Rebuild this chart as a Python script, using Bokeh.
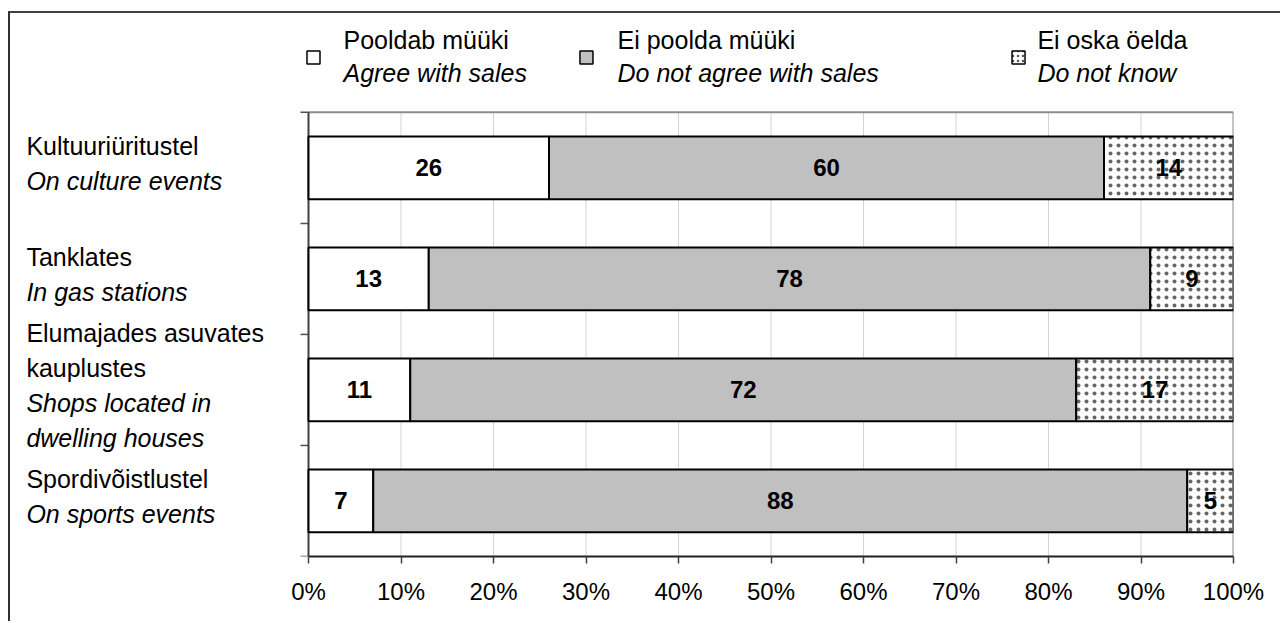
from bokeh.plotting import figure
from bokeh.models import Range1d, FixedTicker, PrintfTickFormatter
from bokeh.core.properties import value
from bokeh.embed import file_html
from bokeh.resources import INLINE

# ---------------- data ----------------
categories_et = ["Kultuuriüritustel", "Tanklates", "Elumajades asuvates\nkauplustes", "Spordivõistlustel"]
categories_en = ["On culture events", "In gas stations", "Shops located in\ndwelling houses", "On sports events"]
agree = [26, 13, 11, 7]
disagree = [60, 78, 72, 88]
dont_know = [14, 9, 17, 5]
series_et = ["Pooldab müüki", "Ei poolda müüki", "Ei oska öelda"]
series_en = ["Agree with sales", "Do not agree with sales", "Do not know"]
x_ticks = [0, 10, 20, 30, 40, 50, 60, 70, 80, 90, 100]

# ---------------- layout / style constants ----------------
FONT = "Liberation Sans"
GREY = "#c0c0c0"
BAR_H = 0.565
PX = 9.25                      # pixels per x unit
X_START = -(308 - 10) / PX     # frame starts at the canvas' left edge
LEG_MARK_X = [0.54, 30.05, 76.76]
LEG_TEXT_X = [3.78, 33.41, 78.8]
LEG_Y1, LEG_Y2, LEG_MY = -0.647, -0.35, -0.494
CAT_X = -30.5
LINE_STEP = 0.315
LINE_OFF = -0.036
TICK_LEN = 8 / PX

n = len(categories_et)
ypos = [i + 0.5 for i in range(n)]
left2 = agree
right2 = [a + d for a, d in zip(agree, disagree)]
right3 = [r + k for r, k in zip(right2, dont_know)]

p = figure(width=1272, height=610,
           x_range=Range1d(X_START, 100), y_range=Range1d(n, -0.8),
           output_backend="svg", toolbar_location=None, title=None,
           min_border_left=0, min_border_right=49,
           min_border_top=10, min_border_bottom=67,
           outline_line_color=None, background_fill_color="white",
           border_fill_color="white")
p.margin = (11, 0, 0, 8)
p.styles = {"border-top": "2px solid #404040", "border-left": "2px solid #303030"}
p.xgrid.visible = False
p.ygrid.visible = False
p.yaxis.visible = False

# gridlines (behind bars)
p.segment(x0=x_ticks[1:-1], y0=0, x1=x_ticks[1:-1], y1=n, line_color="#d4d4d4", line_width=1)
# plot-area border top and right
p.segment(x0=[0, 100], y0=[0, 0], x1=[100, 100], y1=[0, n], line_color="#8c8c8c", line_width=2)
# left axis line and its ticks at the category boundaries
bounds_y = list(range(n + 1))
p.segment(x0=[-TICK_LEN] * (n + 1), y0=bounds_y, x1=[0] * (n + 1), y1=bounds_y,
          line_color="#505050", line_width=1.5)
p.segment(x0=0, y0=0, x1=0, y1=n, line_color="#404040", line_width=2)

# bars
p.hbar(y=ypos, left=0, right=agree, height=BAR_H, fill_color="white", line_color="black", line_width=2)
p.hbar(y=ypos, left=left2, right=right2, height=BAR_H, fill_color=GREY, line_color="black", line_width=2)
p.hbar(y=ypos, left=right2, right=right3, height=BAR_H, fill_color="white", line_color="black", line_width=2,
       hatch_pattern="dot", hatch_scale=8, hatch_color="#666666", hatch_weight=0.7)

# value labels
lab_x, lab_y, lab_t = [], [], []
for i in range(n):
    for lo, val in ((0, agree[i]), (left2[i], disagree[i]), (right2[i], dont_know[i])):
        lab_x.append(lo + val / 2)
        lab_y.append(ypos[i])
        lab_t.append(str(val))
p.text(x=lab_x, y=lab_y, text=lab_t, text_align="center", text_baseline="middle",
       text_font=value(FONT), text_font_style="bold", text_font_size="24px", text_color="black")

# legend
p.scatter(x=LEG_MARK_X[:2], y=[LEG_MY] * 2, marker="square", size=13,
          fill_color=["white", GREY], line_color="black", line_width=1.5)
p.scatter(x=LEG_MARK_X[2:], y=[LEG_MY], marker="square", size=13,
          fill_color="white", line_color="black", line_width=1.5,
          hatch_pattern="dot", hatch_scale=5, hatch_color="#555555", hatch_weight=0.8)
p.text(x=LEG_TEXT_X, y=[LEG_Y1] * 3, text=series_et, text_align="left", text_baseline="middle",
       text_font=value(FONT), text_font_size="25px", text_color="black")
p.text(x=LEG_TEXT_X, y=[LEG_Y2] * 3, text=series_en, text_align="left", text_baseline="middle",
       text_font=value(FONT), text_font_style="italic", text_font_size="25px", text_color="black")

# category labels (left of the bars)
cx, cy, ct, cs = [], [], [], []
for i in range(n):
    lines = [(t, "normal") for t in categories_et[i].split("\n")] + \
            [(t, "italic") for t in categories_en[i].split("\n")]
    m = len(lines)
    for j, (t, style) in enumerate(lines):
        cx.append(CAT_X)
        cy.append(ypos[i] + LINE_OFF + (j - (m - 1) / 2) * LINE_STEP)
        ct.append(t)
        cs.append(style)
p.text(x=cx, y=cy, text=ct, text_font_style=cs, text_align="left", text_baseline="middle",
       text_font=value(FONT), text_font_size="25px", text_color="black")

# bottom axis
p.xaxis.ticker = FixedTicker(ticks=x_ticks)
p.xaxis.bounds = (0, 100)
p.xaxis.formatter = PrintfTickFormatter(format="%d%%")
p.xaxis.minor_tick_line_color = None
p.xaxis.major_tick_in = 0
p.xaxis.major_tick_out = 7
p.xaxis.axis_line_color = "#202020"
p.xaxis.axis_line_width = 2
p.xaxis.major_tick_line_color = "#404040"
p.xaxis.major_tick_line_width = 1.5
p.xaxis.major_label_text_font = FONT
p.xaxis.major_label_text_font_size = "24px"
p.xaxis.major_label_text_color = "black"
p.xaxis.major_label_standoff = 14

open("out.html", "w").write(file_html(p, INLINE))
